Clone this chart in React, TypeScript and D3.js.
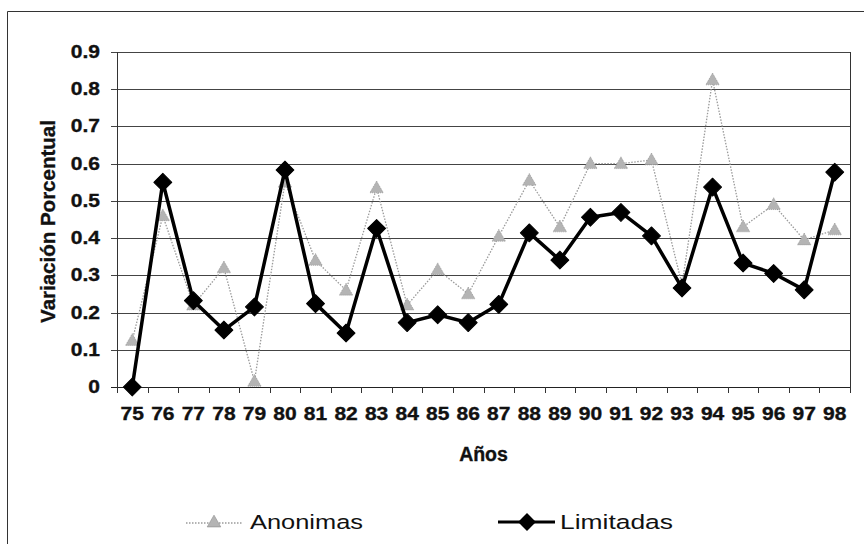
import React from "react";
import * as d3 from "d3";

// chart data
const years = ["75", "76", "77", "78", "79", "80", "81", "82", "83", "84", "85", "86",
  "87", "88", "89", "90", "91", "92", "93", "94", "95", "96", "97", "98"];
const anonimas = [0.125, 0.46, 0.22, 0.32, 0.015, 0.55, 0.34, 0.26, 0.535, 0.22, 0.315, 0.25,
  0.405, 0.555, 0.43, 0.6, 0.6, 0.61, 0.275, 0.825, 0.43, 0.49, 0.395, 0.422];
const limitadas = [0, 0.55, 0.232, 0.153, 0.215, 0.583, 0.224, 0.145, 0.426, 0.173, 0.194, 0.173,
  0.222, 0.414, 0.341, 0.456, 0.469, 0.406, 0.266, 0.537, 0.333, 0.305, 0.261, 0.577];
const yTicks = [0, 0.1, 0.2, 0.3, 0.4, 0.5, 0.6, 0.7, 0.8, 0.9];

const W = 864;
const H = 544;
const plot = { left: 117, right: 850, top: 52, bottom: 387 };
const FONT = "'Liberation Sans', Arial, sans-serif";
// scanned text looks heavier, so a thin outline thickens it a bit
const ink = { fill: "#111", stroke: "#111", strokeWidth: 0.35 };

export default function App() {
  const x = d3.scaleBand<string>().domain(years).range([plot.left, plot.right]).padding(0);
  const y = d3.scaleLinear().domain([0, 0.9]).range([plot.bottom, plot.top]);
  const cx = (i: number) => (x(years[i]) as number) + x.bandwidth() / 2;

  const line = d3.line<number>().x((_, i) => cx(i)).y((d) => y(d));
  const diamond = d3.symbol(d3.symbolSquare, 160)();
  const triangle = d3.symbol(d3.symbolTriangle, 80)();
  const bounds = years.map((yr) => x(yr) as number).concat([plot.right]);

  return (
    <svg width={W} height={H} style={{ position: "absolute", left: 0, top: 0, background: "#fff" }}>
      {/* outer frame */}
      <path d={`M7.5,${H + 2} V11.5 H${W + 2}`} fill="none" stroke="#333" strokeWidth={1} />

      {/* gridlines + y ticks */}
      {yTicks.map((t) => (
        <g key={t}>
          <line x1={plot.left - 6} x2={plot.right} y1={Math.round(y(t)) + 0.5} y2={Math.round(y(t)) + 0.5}
            stroke={t === 0 ? "#222" : "#444"} strokeWidth={1} />
          <text transform={`translate(100,${y(t) + 6}) scale(1.2,1)`} textAnchor="end"
            fontFamily={FONT} fontWeight="bold" fontSize={17.5} {...ink}>
            {t === 0 ? "0" : t.toFixed(1)}
          </text>
        </g>
      ))}
      {/* axis + right border */}
      <line x1={plot.left + 0.5} x2={plot.left + 0.5} y1={plot.top} y2={plot.bottom} stroke="#333" />
      <line x1={plot.right + 0.5} x2={plot.right + 0.5} y1={plot.top} y2={plot.bottom} stroke="#333" />

      {/* x ticks and labels */}
      {bounds.map((b, i) => (
        <line key={"t" + i} x1={Math.round(b) + 0.5} x2={Math.round(b) + 0.5} y1={plot.bottom}
          y2={plot.bottom + 6} stroke="#333" />
      ))}
      {years.map((yr, i) => (
        <text key={yr} transform={`translate(${cx(i)},420) scale(1.2,1)`} textAnchor="middle"
          fontFamily={FONT} fontWeight="bold" fontSize={17.5} {...ink}>
          {yr}
        </text>
      ))}

      {/* axis titles */}
      <text x={(plot.left + plot.right) / 2} y={461} textAnchor="middle" fontFamily={FONT}
        fontWeight="bold" fontSize={19.5} {...ink}>Años</text>
      <text transform={`translate(55,${(plot.top + plot.bottom) / 2 + 2}) rotate(-90)`} textAnchor="middle"
        fontFamily={FONT} fontWeight="bold" fontSize={20.5} {...ink}>Variación Porcentual</text>

      {/* Anonimas series */}
      <path d={line(anonimas) || ""} fill="none" stroke="#9a9a9a" strokeWidth={1.3} strokeDasharray="1.5,1.5" />
      {anonimas.map((v, i) => (
        <path key={"a" + i} d={triangle || ""} transform={`translate(${cx(i)},${y(v) + 1})`}
          fill="#b4b4b4" stroke="#8a8a8a" strokeWidth={0.6} strokeDasharray="1,1" />
      ))}

      {/* Limitadas series */}
      <path d={line(limitadas) || ""} fill="none" stroke="#000" strokeWidth={3.5} strokeLinejoin="round" />
      {limitadas.map((v, i) => (
        <path key={"l" + i} d={diamond || ""} transform={`translate(${cx(i)},${y(v)}) rotate(45)`}
          fill="#000" stroke="#000" strokeWidth={1} strokeLinejoin="round" />
      ))}

      {/* legend */}
      <line x1={186} x2={242} y1={523} y2={523} stroke="#9a9a9a" strokeWidth={1.3} strokeDasharray="1.5,1.5" />
      <path d={triangle || ""} transform="translate(214,523)" fill="#b4b4b4" stroke="#8a8a8a" strokeWidth={0.6} />
      <text x={250} y={529} fontFamily={FONT} fontSize={20.5} textLength={113}
        lengthAdjust="spacingAndGlyphs" fill="#111">Anonimas</text>

      <line x1={498} x2={555} y1={522} y2={522} stroke="#000" strokeWidth={3} />
      <path d={diamond || ""} transform="translate(527,522) rotate(45)" fill="#000" />
      <text x={560} y={529} fontFamily={FONT} fontSize={20.5} textLength={113}
        lengthAdjust="spacingAndGlyphs" fill="#111">Limitadas</text>
    </svg>
  );
}
